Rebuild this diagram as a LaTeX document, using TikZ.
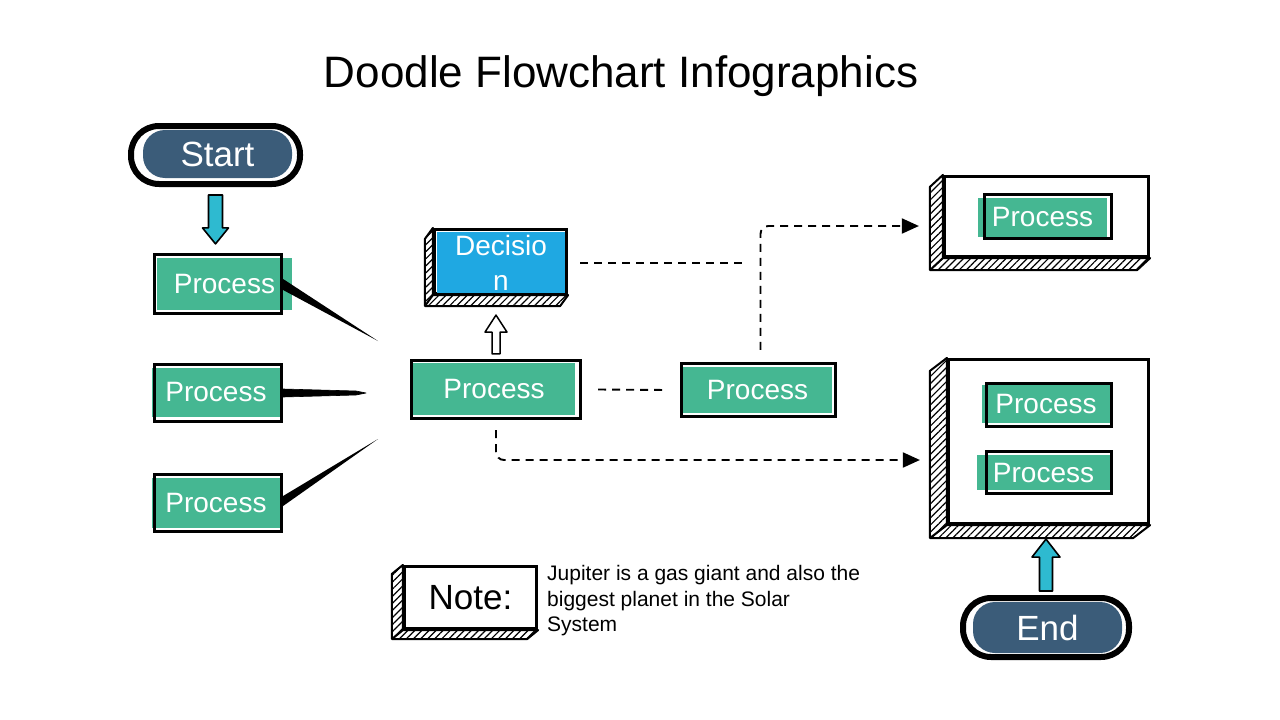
\documentclass[tikz,border=0pt]{standalone}
\usepackage{fontspec}
\setmainfont{Liberation Sans}
\usetikzlibrary{calc,arrows.meta,patterns.meta}
\definecolor{procteal}{RGB}{69,183,146}
\definecolor{slate}{RGB}{59,92,121}
\definecolor{decblue}{RGB}{31,168,226}
\definecolor{arrowcyan}{RGB}{46,186,208}
\begin{document}
\begin{tikzpicture}[x=1pt,y=-1pt,
    frame/.style={draw, line width=3.2pt, inner sep=0pt},
    procfill/.style={fill=procteal, text=white, inner sep=0pt, font=\fontsize{28}{32}\selectfont},
    pillfill/.style={fill=slate, text=white, rounded corners=22pt, inner sep=0pt, font=\fontsize{35}{40}\selectfont},
    pillframe/.style={draw, line width=6pt, rounded corners=28pt, inner sep=0pt},
    face/.style={draw, fill=white, line width=3.2pt, inner sep=0pt},
    hatched/.style={draw, line width=2pt, line join=round, pattern={Lines[angle=45,distance=5pt,line width=1.2pt]}},
    dashline/.style={line width=1.9pt, dash pattern=on 8pt off 6pt, rounded corners=8pt},
    blockarrow/.style={draw, line width=1.6pt, line join=round, fill=arrowcyan}]
    \useasboundingbox (0,0) rectangle (1280,720);

    \node[font=\fontsize{44}{50}\selectfont] (title) at (621,76) {Doodle Flowchart Infographics};

    % start and end
    \node[pillfill, minimum width=149pt, minimum height=48pt] (startfill) at (217.5,154) {Start};
    \node[pillframe, minimum width=169pt, minimum height=58pt] (start) at (215.5,155) {};
    \node[pillfill, minimum width=149pt, minimum height=51pt] (endfill) at (1047.5,627.5) {End};
    \node[pillframe, minimum width=166pt, minimum height=59pt] (end) at (1046,627.5) {};

    % 3d boxes
    \node[face, minimum width=132pt, minimum height=64pt] (dec) at (500.5,261.5) {};
    \node[fill=decblue, text=white, inner sep=0pt, minimum width=128pt, minimum height=61pt, align=center,
        font=\fontsize{28}{35}\selectfont] (decfill) at (501,262.5) {Decisio\\n};
    \node[face, minimum width=204pt, minimum height=80pt] (boxT) at (1046.5,216.5) {};
    \node[face, minimum width=200pt, minimum height=164pt] (boxB) at (1048.5,441.5) {};
    \node[face, minimum width=132pt, minimum height=62pt, font=\fontsize{35}{40}\selectfont] (note) at (470.5,597.5) {Note:};
    \foreach \b/\dx/\dy in {dec/-8/11, boxT/-13/12, boxB/-17/13, note/-11/9}
        \draw[hatched] (\b.north west) -- ++(\dx,\dy) -- ([shift={(\dx,\dy)}]\b.south west)
            -- ([shift={(\dx,\dy)}]\b.south east) -- (\b.south east) -- (\b.south west) -- cycle
            (\b.south west) -- ++(\dx,\dy);

    % process boxes
    \foreach \n/\fx/\fy/\fw/\fh/\bx/\by/\bw/\bh in {
        p1/224.5/284/135/52/218/284/127/59,
        p2/216/392.5/128/49/218/393/127/57,
        p3/216/503/128/50/218/503/127/57,
        pc/494/389/162/52/496/389.5/169/58,
        pr/757.5/390/149/46/758.5/390/154/53,
        pt/1042.5/217.5/129/39/1048/216.5/127/44,
        pb1/1046/404/128/38/1049/405/125/43,
        pb2/1043.5/472.5/133/35/1049/472.5/125/42} {
        \node[procfill, minimum width=\fw pt, minimum height=\fh pt] (\n fill) at (\fx,\fy) {Process};
        \node[frame, minimum width=\bw pt, minimum height=\bh pt] (\n) at (\bx,\by) {};
    }

    \node[anchor=west, inner sep=0pt, align=left, font=\fontsize{21}{25.5}\selectfont] (notetext) at (547,601)
        {Jupiter is a gas giant and also the\\biggest planet in the Solar\\System};

    % tapered lines
    \coordinate (w1) at (378,341);
    \coordinate (w2) at (366,393);
    \coordinate (w3) at (378,439);
    \fill[line join=round] ($(p1.east)+(0,-5)$) -- (w1) -- ($(p1.east)+(0,6)$) -- cycle;
    \fill[draw, line width=0.6pt, line join=round] ($(p2.east)+(0,-4)$) -- ($(w2)+(-10,-2)$) -- (w2) -- ($(w2)+(-10,2)$) -- ($(p2.east)+(0,4)$) -- cycle;
    \fill[line join=round] ($(p3.east)+(0,-7)$) -- (w3) -- ($(p3.east)+(0,3)$) -- cycle;

    % block arrows
    \coordinate (a1s) at ([yshift=-8pt]start.south);
    \coordinate (a1e) at ($(a1s |- p1.north)+(0,-9)$);
    \filldraw[blockarrow] ($(a1s)+(-7,0)$) -- ($(a1e)+(-7,-16)$) -- ($(a1e)+(-13,-16)$) -- (a1e)
        -- ($(a1e)+(13,-16)$) -- ($(a1e)+(7,-16)$) -- ($(a1s)+(7,0)$) -- cycle;
    \coordinate (a2s) at ([yshift=4pt]end.north);
    \coordinate (a2e) at ($(a2s |- boxB.south)+(0,14)$);
    \filldraw[blockarrow] ($(a2s)+(-6.5,0)$) -- ($(a2e)+(-6.5,18)$) -- ($(a2e)+(-14,18)$) -- (a2e)
        -- ($(a2e)+(14,18)$) -- ($(a2e)+(6.5,18)$) -- ($(a2s)+(6.5,0)$) -- cycle;
    \coordinate (a3s) at ([yshift=5pt]pc.north);
    \coordinate (a3e) at ($(a3s |- dec.south)+(0,20)$);
    \filldraw[draw, fill=white, line width=1.5pt, line join=round] ($(a3s)+(-4,0)$) -- ($(a3e)+(-4,17)$) -- ($(a3e)+(-11,17)$)
        -- (a3e) -- ($(a3e)+(11,17)$) -- ($(a3e)+(4,17)$) -- ($(a3s)+(4,0)$) -- cycle;

    % dashed connectors
    \coordinate (d1) at (747,263);
    \coordinate (tT) at ([xshift=-24pt,yshift=-9.5pt]boxT.west);
    \coordinate (tB) at ([xshift=-27pt,yshift=-18.5pt]boxB.west);
    \draw[dashline] ([xshift=16pt]pc.east) -- ([xshift=-12pt]pr.west);
    \draw[dashline] ([xshift=12pt,yshift=-1.5pt]dec.east) -- (d1);
    \draw[dashline, -{Triangle[length=17pt,width=15pt]}] ([xshift=2pt,yshift=12pt]pr.north) |- (tT);
    \draw[dashline, -{Triangle[length=17pt,width=15pt]}] ([yshift=-10pt]pc.south) |- (tB);
\end{tikzpicture}
\end{document}
